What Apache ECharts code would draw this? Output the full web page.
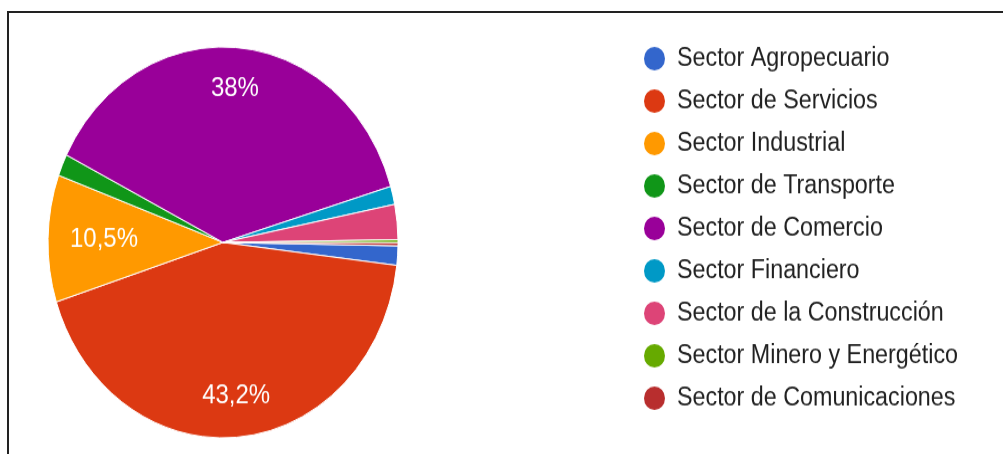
<!DOCTYPE html>
<html>
<head>
  <meta charset="UTF-8">
  <title>Sectores</title>
  <script src="https://cdn.jsdelivr.net/npm/echarts@6/dist/echarts.min.js"></script>
  <style>
    body {
      margin: 0;
      width: 1003px;
      height: 454px;
      overflow: hidden;
      background: #fff;
      font-family: Arial, "Liberation Sans", sans-serif;
    }
    /* the source screenshot is stretched vertically, so the chart is too */
    #main {
      position: absolute;
      left: 0;
      top: 0;
      width: 1003px;
      height: 407px;
      transform: scaleY(1.117);
      transform-origin: 0 0;
    }
    #frame {
      position: absolute;
      left: 7px;
      top: 11px;
      width: 1010px;
      height: 460px;
      border-left: 2px solid #222;
      border-top: 2px solid #222;
    }
  </style>
</head>
<body>
  <div id="main"></div>
  <div id="frame"></div>

  <script>
    const sectors = [
      'Sector Agropecuario',
      'Sector de Servicios',
      'Sector Industrial',
      'Sector de Transporte',
      'Sector de Comercio',
      'Sector Financiero',
      'Sector de la Construcción',
      'Sector Minero y Energético',
      'Sector de Comunicaciones'
    ];
    const percents = [1.6, 43.2, 10.5, 1.8, 38, 1.5, 2.9, 0.25, 0.25];
    const colors = ['#3366cc', '#dc3912', '#ff9900', '#109618', '#990099',
                    '#0099c6', '#dd4477', '#66aa00', '#b82e2e'];

    const pieData = sectors.map((name, i) => ({ name: name, value: percents[i] }));
    const fmt = v => String(v).replace('.', ',') + '%';

    const chart = echarts.init(document.getElementById('main'));

    // transparent copy of the pie that only carries labels
    function labelRing(r0, test) {
      return {
        type: 'pie',
        center: [223, 217],
        radius: [r0, 175],
        startAngle: -1,
        clockwise: true,
        silent: true,
        legendHoverLink: false,
        data: pieData,
        itemStyle: { color: 'rgba(0,0,0,0)' },
        label: {
          show: true,
          position: 'inside',
          color: '#fff',
          fontFamily: 'Arial, "Liberation Sans", sans-serif',
          fontSize: 24,
          formatter: p => test(p.value) ? fmt(p.value) : ''
        },
        labelLine: { show: false },
        emphasis: { disabled: true }
      };
    }

    const option = {
      animation: false,
      color: colors,
      legend: {
        orient: 'vertical',
        left: 637,
        top: 35,
        icon: 'circle',
        itemWidth: 23,
        itemHeight: 23,
        itemGap: 13,
        textStyle: {
          fontFamily: 'Arial, "Liberation Sans", sans-serif',
          fontSize: 23.3,
          color: '#212121',
          padding: [0, 0, 0, 6]
        },
        data: sectors
      },
      series: [
        {
          type: 'pie',
          center: [223, 217],
          radius: [0, 175],
          startAngle: -1,
          clockwise: true,
          data: pieData,
          itemStyle: { borderColor: '#fff', borderWidth: 1 },
          label: { show: false },
          labelLine: { show: false },
          emphasis: { disabled: true }
        },
        labelRing(95, v => v >= 20),
        labelRing(57, v => v >= 5 && v < 20)
      ]
    };

    chart.setOption(option);
  </script>
</body>
</html>
